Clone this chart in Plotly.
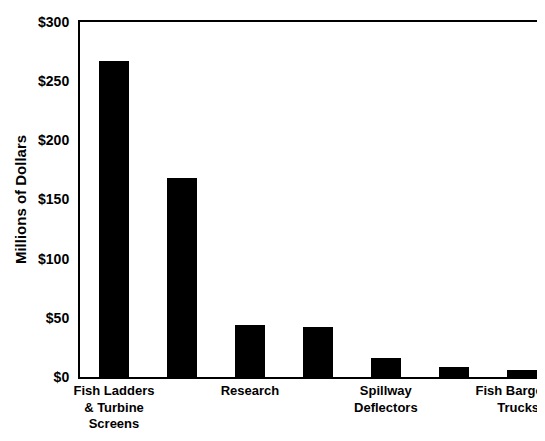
import plotly.graph_objects as go

# 數據 (millions of dollars)
categories = [0, 1, 2, 3, 4, 5, 6]
tick_labels = ["Fish Ladders<br>& Turbine<br>Screens", "", "Research", "",
               "Spillway<br>Deflectors", "",
               "Fish Barge" + "\u00a0" * 7 + "<br>Trucks" + "\u00a0" * 2]
costs = [267, 168, 44, 42, 16, 8.5, 6]

font_family = "Liberation Sans, Arial, sans-serif"

fig = go.Figure(go.Bar(
    x=categories,
    y=costs,
    marker=dict(color="black", line=dict(width=0)),
    width=0.44,
))

fig.update_layout(
    width=545, height=441,
    margin=dict(l=72, r=0, t=14, b=72),
    paper_bgcolor="white", plot_bgcolor="white",
    font=dict(family=font_family, size=14, color="black"),
    showlegend=False,
    bargap=0,
)
fig.update_xaxes(
    range=[-0.5, 6.46], automargin=False,
    tickvals=categories, ticktext=tick_labels,
    showline=True, linecolor="black", linewidth=2, mirror=True,
    showgrid=False, ticks="", ticklabeloverflow="allow",
    tickfont=dict(family=font_family, size=13, weight="bold"),
)
fig.update_yaxes(
    range=[0, 300], dtick=50, tickprefix="$", automargin=False,
    showline=True, linecolor="black", linewidth=2,
    showgrid=False, zeroline=False, ticks="",
    tickfont=dict(family=font_family, size=14, weight="bold"),
    ticklabelstandoff=6,
    title=dict(text="Millions of Dollars", standoff=8,
               font=dict(family=font_family, size=15, weight="bold")),
)

fig.write_html("out.html")
